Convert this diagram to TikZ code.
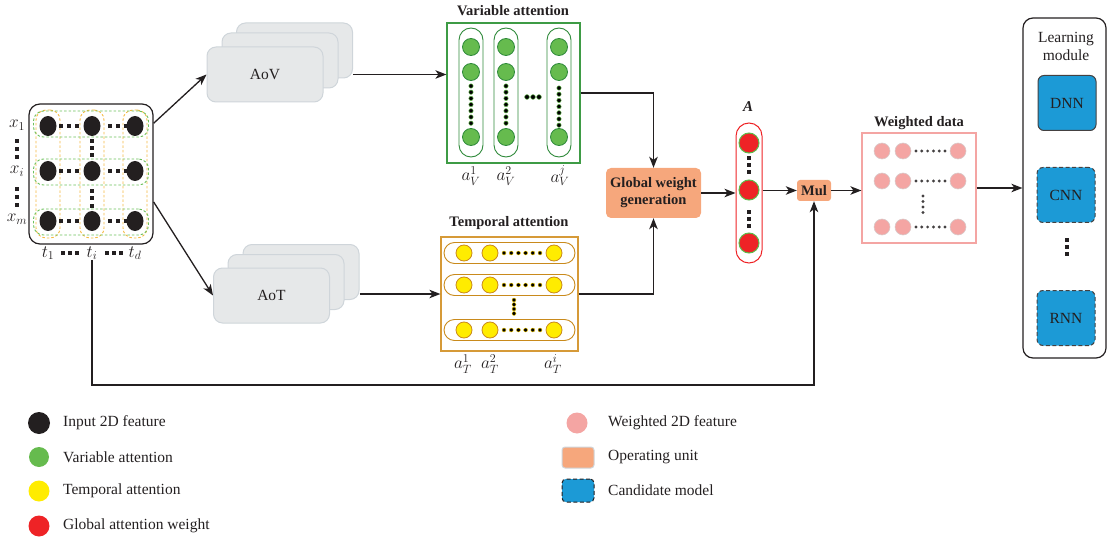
\documentclass[tikz,border=0pt]{standalone}
\usepackage{fontspec}
\setmainfont{Liberation Serif}
\usetikzlibrary{arrows.meta,shapes.geometric,calc}

\definecolor{ink}{HTML}{231F20}
\definecolor{gfill}{HTML}{66BB4E}
\definecolor{gline}{HTML}{2F8A3B}
\definecolor{vframe}{HTML}{3E9B45}
\definecolor{yfill}{HTML}{FFEC00}
\definecolor{yline}{HTML}{C98A1C}
\definecolor{tframe}{HTML}{D69A38}
\definecolor{rfill}{HTML}{EE2326}
\definecolor{rring}{HTML}{5DBB4B}
\definecolor{pfill}{HTML}{F4A5A3}
\definecolor{pring}{HTML}{D9CACA}
\definecolor{ofill}{HTML}{F6A77C}
\definecolor{bfill}{HTML}{1C9AD6}
\definecolor{gray1}{HTML}{E6E8E9}
\definecolor{gray2}{HTML}{CFD5DA}
\definecolor{rowdash}{HTML}{6CC05A}
\definecolor{coldash}{HTML}{F5B941}

\tikzset{
  txt/.style={text=ink, inner sep=0pt, font=\fontsize{15}{17}\selectfont},
  mlab/.style={text=ink, inner sep=0pt, font=\fontsize{16.5}{17}\selectfont},
  ttl/.style={text=ink, inner sep=0pt, font=\fontsize{14.5}{16}\selectfont\bfseries},
  arr/.style={draw=ink, line width=1.3pt, -{Stealth[length=11pt,width=8.5pt,inset=3pt]}},
  stackbox/.style={draw=gray2, fill=gray1, line width=1pt, rounded corners=9pt,
    minimum width=116pt, minimum height=55pt, inner sep=0pt},
  indot/.style={ellipse, fill=ink, minimum width=17pt, minimum height=20pt, inner sep=0pt},
  gdot/.style={circle, fill=gfill, draw=gline, line width=0.8pt, minimum size=17pt, inner sep=0pt},
  ydot/.style={circle, fill=yfill, draw=yline, line width=0.8pt, minimum size=16pt, inner sep=0pt},
  rdot/.style={circle, fill=rfill, draw=rring, line width=1pt, minimum size=20pt, inner sep=0pt},
  pdot/.style={circle, fill=pfill, draw=pring, line width=0.6pt, minimum size=16pt, inner sep=0pt},
  opunit/.style={fill=ofill, rounded corners=5pt, inner sep=0pt, text=ink},
  model/.style={fill=bfill, draw=ink!85, line width=1pt, rounded corners=6pt,
    minimum width=58pt, minimum height=55pt, inner sep=0pt, text=ink,
    font=\fontsize{15.5}{17}\selectfont},
  cand/.style={model, dashed, dash pattern=on 4pt off 2.5pt},
  rowring/.style={draw=rowdash, dashed, dash pattern=on 2.5pt off 2pt, line width=0.9pt,
    rounded corners=10pt, minimum width=115pt, minimum height=26pt, inner sep=0pt},
  colring/.style={draw=coldash, dashed, dash pattern=on 2.5pt off 2pt, line width=0.9pt,
    rounded corners=10pt, minimum width=24pt, minimum height=128pt, inner sep=0pt},
}

\begin{document}
\begin{tikzpicture}[x=1pt, y=-1pt]
\useasboundingbox (0,0) rectangle (1108,540);

% ---------------- input 2D feature matrix ----------------
\node[draw=ink, line width=1.2pt, rounded corners=11pt, minimum width=124pt,
      minimum height=140pt, inner sep=0pt] (inbox) at (91,174) {};
\foreach \c/\cx in {1/48,2/92,3/135}
  \node[colring] (col\c) at (\cx,174) {};
\foreach \r/\ry in {1/124,2/172,3/222}
  \node[rowring] (row\r) at (91,\ry) {};
\foreach \r/\ry in {1/126,2/171,3/221}{
  \foreach \c/\cx in {1/48,2/92,3/135}
    \node[indot] (x\r\c) at (\cx,\ry) {};
  \foreach \sx in {61,69,77,110,118,126}
    \fill[ink] (\sx-1.8,\ry-1.8) rectangle ++(3.6,3.6);
}
\foreach \sy in {141,148,155,191,198,206}
  \fill[ink] (92-1.8,\sy-1.8) rectangle ++(3.6,3.6);

% row and column labels
\node[mlab] (lx1) at (17,125) {$x_1$};
\node[mlab] (lxi) at (17,171) {$x_i$};
\node[mlab] (lxm) at (17,219) {$x_m$};
\foreach \sy in {141,149,157,189,197,205}
  \fill[ink] (17-1.9,\sy-1.9) rectangle ++(3.8,3.8);
\node[mlab] (t1) at (48,253) {$t_1$};
\node[mlab] (ti) at (92,253) {$t_i$};
\node[mlab] (td) at (135,253) {$t_d$};
\foreach \sx in {63,70,77,107,114,121}
  \fill[ink] (\sx-1.9,253-1.9) rectangle ++(3.8,3.8);

% ---------------- AoV and AoT stacks ----------------
\node[stackbox] (aov3) at (294.5,50.5) {};
\node[stackbox] (aov2) at (280,60.5) {};
\node[stackbox, font=\fontsize{15.5}{17}\selectfont, text=ink] (aov1) at (265,74.5) {AoV};

\node[stackbox] (aot3) at (301,272) {};
\node[stackbox] (aot2) at (286,282) {};
\node[stackbox, font=\fontsize{15.5}{17}\selectfont, text=ink] (aot1) at (271.5,295.5) {AoT};

% ---------------- variable attention ----------------
\node[ttl] (vtitle) at (513,11) {Variable attention};
\node[draw=vframe, line width=1.2pt, minimum width=133pt, minimum height=140pt,
      inner sep=0pt] (vbox) at (513.5,93) {};
\foreach \k/\px in {1/471,2/506,3/559}{
  \node[draw=gline, line width=0.9pt, rounded corners=12pt, minimum width=24pt,
        minimum height=129pt, inner sep=0pt] (vp\k) at (\px,92.5) {};
  \node[gdot] (v\k a) at (\px,47) {};
  \node[gdot] (v\k b) at (\px,72) {};
  \node[gdot] (v\k c) at (\px,137) {};
}
\foreach \px/\ys in {471/86,506/86,559/88}
  \foreach \i in {0,...,6}
    \fill[black, draw=gfill, line width=0.5pt] (\px,\ys+\i*6.2) circle (2.2pt);
\foreach \px in {527,533,539}
  \fill[black, draw=gfill, line width=0.5pt] (\px,97) circle (2.4pt);
\node[mlab] (av1) at (471,176) {$a_V^1$};
\node[mlab] (av2) at (506,176) {$a_V^2$};
\node[mlab] (avj) at (560,176) {$a_V^j$};

% ---------------- temporal attention ----------------
\node[ttl] (ttitle) at (509,223) {Temporal attention};
\node[draw=tframe, line width=1.2pt, minimum width=137pt, minimum height=114pt,
      inner sep=0pt] (tbox) at (509.5,294) {};
\foreach \k/\ry in {1/253,2/285,3/330}{
  \node[draw=yline, line width=0.9pt, rounded corners=10.5pt, minimum width=131pt,
        minimum height=21pt, inner sep=0pt] (tp\k) at (509.5,\ry) {};
  \node[ydot] (y\k a) at (464,\ry) {};
  \node[ydot] (y\k b) at (490,\ry) {};
  \node[ydot] (y\k c) at (554,\ry) {};
  \foreach \i in {0,...,5}
    \fill[black, draw=yfill!80!orange, line width=0.4pt] (504+\i*7.2,\ry) circle (2pt);
}
\foreach \sy in {300,304.5,309,313.5}
  \fill[black, draw=yfill!80!orange, line width=0.4pt] (514,\sy) circle (2pt);
\node[mlab] (at1) at (463,364) {$a_T^1$};
\node[mlab] (at2) at (490,364) {$a_T^2$};
\node[mlab] (ati) at (553,364) {$a_T^i$};

% ---------------- global weights ----------------
\node[opunit, minimum width=95pt, minimum height=50pt, align=center,
      font=\fontsize{14.5}{17}\selectfont\bfseries] (glob) at (653.5,193)
      {Global weight\\generation};

\node[txt, font=\fontsize{15}{15}\selectfont\bfseries\itshape] (Alab) at (748,107) {A};
\node[draw=rfill, line width=1pt, rounded corners=13pt, minimum width=26pt,
      minimum height=140pt, inner sep=0pt] (Apill) at (749,193) {};
\node[rdot] (A1) at (749,143) {};
\node[rdot] (A2) at (749,190) {};
\node[rdot] (A3) at (749,243) {};
\foreach \sy in {158,165,172,212,219,226}
  \fill[ink] (749-1.9,\sy-1.9) rectangle ++(3.8,3.8);

\node[opunit, rounded corners=3pt, minimum width=34pt, minimum height=21pt,
      font=\fontsize{14.5}{16}\selectfont\bfseries] (mul) at (814,190.5) {Mul};

% ---------------- weighted data ----------------
\node[ttl] (wtitle) at (919,123) {Weighted data};
\node[draw=pfill, line width=1.2pt, minimum width=114pt, minimum height=110pt,
      inner sep=0pt] (wbox) at (919,188) {};
\foreach \k/\ry in {1/151,2/181,3/227}{
  \node[pdot] (w\k a) at (882,\ry) {};
  \node[pdot] (w\k b) at (903,\ry) {};
  \node[pdot] (w\k c) at (958,\ry) {};
  \foreach \i in {0,...,5}
    \fill[ink!85] (916+\i*5.8,\ry) circle (1.6pt);
}
\foreach \sy in {196,201.5,207,212.5}
  \fill[ink!85] (923,\sy) circle (1.7pt);

% ---------------- learning module ----------------
\node[draw=ink, line width=1.2pt, rounded corners=10pt, minimum width=83pt,
      minimum height=340pt, inner sep=0pt] (learn) at (1064.5,188) {};
\node[txt, align=center, font=\fontsize{15.5}{18}\selectfont] (ltitle) at (1066,46) {Learning\\module};
\node[model] (dnn) at (1067,103) {DNN};
\node[cand] (cnn) at (1066,195) {CNN};
\node[cand] (rnn) at (1066,318) {RNN};
\foreach \sy in {240,247,254}
  \fill[ink] (1067-1.9,\sy-1.9) rectangle ++(3.8,3.8);

% ---------------- connectors ----------------
\coordinate (loop) at (0,385);
\draw[arr] (inbox.39) -- (aov1.west);
\draw[arr] (inbox.-24) -- (aot1.west);
\draw[arr] (aov3.east |- aov1.center) -- (vbox.west |- aov1.center);
\draw[arr] (aot3.east |- tbox.west) -- (tbox.west);
\draw[arr] (vbox.east) -| (glob.north);
\draw[arr] (tbox.east) -| (glob.south);
\draw[arr] (glob.east) -- (Apill.west |- glob.east);
\draw[arr] (Apill.east |- mul.west) -- (mul.west);
\draw[arr] (mul.east) -- (wbox.west |- mul.east);
\draw[arr] (wbox.east) -- (learn.west |- wbox.east);
\draw[arr] (ti.south) -- (ti.south |- loop) -| (mul.south);

% ---------------- legend ----------------
\node[circle, fill=ink, minimum size=22pt, inner sep=0pt] (k1) at (39,423) {};
\node[circle, fill=gfill, minimum size=20pt, inner sep=0pt] (k2) at (39,457) {};
\node[circle, fill=yfill, minimum size=21pt, inner sep=0pt] (k3) at (39,491) {};
\node[circle, fill=rfill, minimum size=21pt, inner sep=0pt] (k4) at (39,526) {};
\node[txt, anchor=west, font=\fontsize{15.5}{17}\selectfont] (k1t) at (63,423) {Input 2D feature};
\node[txt, anchor=west, font=\fontsize{15.5}{17}\selectfont] (k2t) at (63,457) {Variable attention};
\node[txt, anchor=west, font=\fontsize{15.5}{17}\selectfont] (k3t) at (63,491) {Temporal attention};
\node[txt, anchor=west, font=\fontsize{15.5}{17}\selectfont] (k4t) at (63,526) {Global attention weight};

\node[circle, fill=pfill, minimum size=21pt, inner sep=0pt] (k5) at (577,423) {};
\node[fill=ofill, draw=gray2, line width=1pt, rounded corners=3pt, minimum width=32pt,
      minimum height=21pt, inner sep=0pt] (k6) at (578,457.5) {};
\node[fill=bfill, draw=ink, line width=1pt, dashed, dash pattern=on 4pt off 2.5pt,
      rounded corners=4pt, minimum width=32pt, minimum height=23pt, inner sep=0pt] (k7) at (578,490.5) {};
\node[txt, anchor=west, font=\fontsize{15.5}{17}\selectfont] (k5t) at (608,423) {Weighted 2D feature};
\node[txt, anchor=west, font=\fontsize{15.5}{17}\selectfont] (k6t) at (608,457) {Operating unit};
\node[txt, anchor=west, font=\fontsize{15.5}{17}\selectfont] (k7t) at (608,490) {Candidate model};
\end{tikzpicture}
\end{document}
